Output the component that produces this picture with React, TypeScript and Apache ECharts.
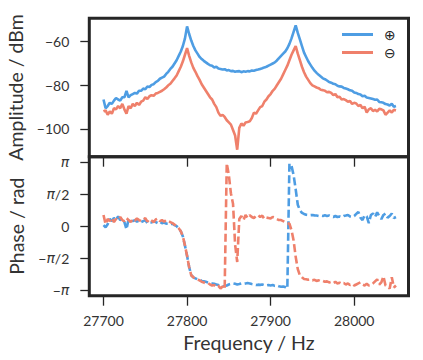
import React, { useEffect, useRef } from "react";
import * as echarts from "echarts";

// ---- data -------------------------------------------------------------
const FREQ_START = 27700; // Hz, first sample
const FREQ_STEP = 2.5; // Hz, sample spacing

// Amplitude (dBm), "⊕" (blue)
const AMP_PLUS = [
  -86.5, -90.5, -89.5, -88, -88.5, -87, -85.8, -86.5, -87, -85.5,
  -85.5, -82.5, -85.5, -84.5, -84, -83.5, -83.8, -82.5, -82.5, -81.5,
  -81.8, -80.5, -80.8, -79.8, -79.5, -78.5, -78, -77, -76.5, -76,
  -74.8, -73.8, -72.5, -71.5, -70, -68.5, -66.5, -64.5, -62, -58.5,
  -53, -56.5, -59.5, -62, -64, -65.5, -67, -68, -68.8, -69.5,
  -70.2, -70.8, -71, -71.8, -71.5, -72.3, -72.5, -72.8, -72.6, -73.2,
  -73, -73.5, -73.4, -73.8, -73.6, -73.5, -74, -73.6, -73.8, -73.5,
  -73.6, -73.2, -73.3, -73, -72.8, -72.5, -72.2, -71.8, -71.5, -71,
  -70.5, -70, -69.5, -68.6, -67.5, -66.5, -65.5, -64.5, -63, -61,
  -58.5, -55.5, -52.5, -56, -59, -62, -65, -67, -69, -70.5,
  -72, -73.3, -74.3, -75.2, -76, -76.8, -77.2, -77.8, -78.5, -78.8,
  -79.3, -79.5, -80.2, -80.5, -80.6, -81.2, -81.5, -81.8, -82.3, -82.5,
  -83.3, -83.5, -84, -84.2, -85, -84.8, -85.6, -85.8, -86, -86.3,
  -86.6, -86.5, -87.6, -87.8, -88, -88.6, -88.8, -89.3, -88.5, -89.8,
  -89.5,
];

// Amplitude (dBm), "⊖" (red)
const AMP_MINUS = [
  -92, -91.5, -93.5, -92, -93, -90.5, -91, -89.5, -90.5, -88.5,
  -91, -93, -89.5, -90.5, -88.5, -89.5, -88, -89, -87.5, -87,
  -85.5, -86.3, -85, -84.5, -84.8, -83.8, -83.5, -83, -82.5, -81.8,
  -81, -80, -79.3, -78, -76.8, -75.5, -73.5, -71.5, -69, -66,
  -63, -66.5, -69.5, -72, -73.8, -75.8, -77.5, -79.5, -81, -82.5,
  -84, -85.5, -86.5, -88.5, -90, -92.5, -94, -93.5, -94.5, -96,
  -97, -98, -100.5, -103, -109.5, -99.5, -97.5, -98.5, -97, -96.8,
  -96.5, -95, -92.5, -93, -91.5, -90, -89.5, -87.5, -86.5, -85,
  -84, -82.5, -81.5, -80, -78.5, -77, -75, -73, -71, -68.5,
  -66, -64, -62, -65.5, -68.5, -71.5, -74, -76, -77.5, -79,
  -80, -80.5, -81, -81.3, -82, -82.2, -82.5, -83.2, -83, -83.5,
  -84.5, -84, -85.5, -85.2, -86.5, -86.3, -86.8, -87.5, -87.2, -88.5,
  -88, -88.3, -89.5, -89, -90.5, -89.8, -92.5, -91, -90.5, -91.8,
  -91.2, -92, -90.8, -91, -91.5, -93.5, -92.5, -91.5, -92.5, -91.2,
  -91.5,
];

// Phase (rad), "⊕" (blue)
const PHASE_PLUS = [
  0.05, -0.05, 0.1, 0.35, 0.25, 0.4, 0.3, 0.48, 0.3, 0.35,
  0.2, -0.15, 0.35, 0.3, 0.25, 0.3, 0.22, 0.28, 0.2, 0.25,
  0.3, 0.15, 0.2, 0.18, 0.25, 0.2, 0.15, 0.22, 0.15, 0.18,
  0.12, 0.15, 0.1, 0.12, 0.05, 0.0, -0.1, -0.25, -0.5, -0.95,
  -1.45, -2.0, -2.4, -2.5, -2.55, -2.6, -2.62, -2.68, -2.7, -2.72,
  -2.75, -2.78, -2.8, -2.82, -2.85, -2.88, -2.92, -2.95, -2.93, -2.9,
  -2.85, -2.82, -2.8, -2.82, -2.85, -2.83, -2.8, -2.82, -2.8, -2.78,
  -2.8, -2.83, -2.85, -2.88, -2.86, -2.87, -2.85, -2.88, -2.9, -2.88,
  -2.9, -2.88, -2.92, -2.9, -2.94, -2.96, -2.95, -2.98, -3.05, 3.06,
  2.95, 2.5, 1.8, 1.05, 0.78, 0.65, 0.6, 0.56, 0.55, 0.54,
  0.55, 0.53, 0.52, 0.5, 0.52, 0.5, 0.53, 0.5, 0.52, 0.48,
  0.45, 0.5, 0.45, 0.48, 0.44, 0.5, 0.52, 0.55, 0.48, 0.45,
  0.5, 0.6, 0.7, 0.42, 0.3, 0.55, 0.48, 0.15, 0.55, 0.62,
  0.45, 0.68, 0.5, 0.35, 0.55, 0.62, 0.42, 0.5, 0.62, 0.4,
  0.45,
];

// Phase (rad), "⊖" (red)
const PHASE_MINUS = [
  0.55, 0.1, 0.35, 0.25, 0.4, 0.2, 0.35, 0.3, 0.45, 0.3,
  0.25, 0.4, 0.3, 0.2, 0.35, 0.28, 0.38, 0.3, 0.25, 0.32,
  0.4, 0.22, 0.35, 0.28, 0.2, 0.33, 0.38, 0.25, 0.3, 0.22,
  0.3, 0.25, 0.2, 0.15, 0.08, 0.02, -0.1, -0.25, -0.5, -0.95,
  -1.45, -2.0, -2.4, -2.5, -2.58, -2.62, -2.65, -2.72, -2.75, -2.8,
  -2.78, -2.85, -2.9, -2.88, -2.98, -2.92, -3.05, -2.95, -3.08, 3.08,
  2.5, 1.6, 1.1, -0.9, -1.75, 0.35, 0.5, 0.3, 0.55, 0.4,
  0.54, 0.45, 0.4, 0.5, 0.55, 0.45, 0.52, 0.35, 0.42, 0.4,
  0.38, 0.45, 0.42, 0.35, 0.3, 0.3, 0.25, 0.2, 0.15, 0.12,
  -0.2, -0.7, -1.5, -2.1, -2.4, -2.5, -2.58, -2.6, -2.62, -2.6,
  -2.65, -2.62, -2.68, -2.65, -2.7, -2.68, -2.72, -2.7, -2.75, -2.72,
  -2.78, -2.72, -2.8, -2.76, -2.82, -2.78, -2.85, -2.8, -2.88, -2.82,
  -2.9, -2.85, -2.8, -2.75, -2.85, -2.9, -2.82, -2.9, -2.88, -2.8,
  -2.7, -2.6, -2.85, -2.75, -2.45, -2.9, -2.95, -3.05, -2.5, -3.0,
  -2.9,
];

const FREQ_TICKS = [27700, 27800, 27900, 28000];
const AMP_TICKS = [-100, -80, -60];
const PHASE_TICKS = [-Math.PI, -Math.PI / 2, 0, Math.PI / 2, Math.PI];
const PHASE_TICK_LABELS = ["−{i|π}", "−{i|π}/2", "0", "{i|π}/2", "{i|π}"];
const SERIES_NAMES = ["⊕", "⊖"];

// ---- styling ------------------------------------------------------------
const BLUE = "#4e9de3";
const RED = "#ef806b";
const INK = "#262626";
const TEXT = "#333333";
const FONT = "Lato, 'DejaVu Sans', sans-serif";

const FREQ = AMP_PLUS.map((_, i) => FREQ_START + i * FREQ_STEP);
const pairs = (ys: number[]) => ys.map((y, i) => [FREQ[i], y]);

export default function App() {
  const ref = useRef<HTMLDivElement>(null);

  useEffect(() => {
    if (!ref.current) return;
    const chart = echarts.init(ref.current, null, { renderer: "svg" });

    const gridCommon = {
      show: true,
      left: 89.3,
      width: 319.2,
      borderColor: INK,
      borderWidth: 3,
      backgroundColor: "transparent",
      containLabel: false,
      outerBoundsMode: "none",
    };
    const tickStyle = { color: INK, width: 1.3 };
    const labelStyle = { color: TEXT, fontFamily: FONT, fontSize: 14 };
    const nameStyle = { color: TEXT, fontFamily: FONT, fontSize: 19.5 };

    const option: any = {
      animation: false,
      backgroundColor: "#ffffff",
      grid: [
        { ...gridCommon, top: 18.3, height: 138.4 },
        { ...gridCommon, top: 156.7, height: 139 },
      ],
      legend: {
        data: SERIES_NAMES,
        orient: "vertical",
        left: 342,
        top: 27.5,
        padding: 0,
        itemWidth: 31,
        itemHeight: 3,
        itemGap: 4,
        icon: "rect",
        textStyle: {
          fontFamily: "'DejaVu Sans', sans-serif",
          fontSize: 14,
          color: "#222",
          padding: [0, 0, 0, 6],
        },
      },
      xAxis: [
        {
          type: "value",
          gridIndex: 0,
          min: 27683,
          max: 28065,
          axisLine: { show: false, onZero: false },
          axisTick: { show: true, customValues: FREQ_TICKS, length: 10, lineStyle: tickStyle },
          axisLabel: { show: false },
          splitLine: { show: false },
        },
        {
          type: "value",
          gridIndex: 1,
          min: 27683,
          max: 28065,
          name: "Frequency / Hz",
          nameLocation: "middle",
          nameGap: 37,
          nameTextStyle: nameStyle,
          axisLine: { show: false, onZero: false },
          axisTick: { show: true, customValues: FREQ_TICKS, length: 10, lineStyle: tickStyle },
          axisLabel: { ...labelStyle, customValues: FREQ_TICKS, margin: 18, formatter: (v: number) => String(v) },
          splitLine: { show: false },
        },
      ],
      yAxis: [
        {
          type: "value",
          gridIndex: 0,
          min: -112.7,
          max: -49.3,
          name: "Amplitude / dBm",
          nameLocation: "middle",
          nameGap: 63,
          nameTextStyle: nameStyle,
          axisLine: { show: false, onZero: false },
          axisTick: { show: true, customValues: AMP_TICKS, length: 9, lineStyle: tickStyle },
          axisLabel: {
            ...labelStyle,
            customValues: AMP_TICKS,
            margin: 20,
            formatter: (v: number) => (v < 0 ? "−" : "") + Math.abs(v),
          },
          splitLine: { show: false },
        },
        {
          type: "value",
          gridIndex: 1,
          min: -3.4,
          max: 3.4,
          name: "Phase / rad",
          nameLocation: "middle",
          nameGap: 63,
          nameTextStyle: nameStyle,
          axisLine: { show: false, onZero: false },
          axisTick: { show: true, customValues: PHASE_TICKS, length: 9, lineStyle: tickStyle },
          axisLabel: {
            ...labelStyle,
            customValues: PHASE_TICKS,
            margin: 20,
            formatter: (v: number) => {
              let best = 0;
              PHASE_TICKS.forEach((t, i) => {
                if (Math.abs(t - v) < Math.abs(PHASE_TICKS[best] - v)) best = i;
              });
              return PHASE_TICK_LABELS[best];
            },
            rich: {
              i: {
                fontStyle: "italic",
                fontFamily: "'DejaVu Sans', sans-serif",
                fontSize: 14,
                color: TEXT,
              },
            },
          },
          splitLine: { show: false },
        },
      ],
      series: [
        {
          name: SERIES_NAMES[0],
          type: "line",
          xAxisIndex: 0,
          yAxisIndex: 0,
          data: pairs(AMP_PLUS),
          showSymbol: false,
          lineStyle: { color: BLUE, width: 2.6 },
          itemStyle: { color: BLUE },
          z: 3,
        },
        {
          name: SERIES_NAMES[1],
          type: "line",
          xAxisIndex: 0,
          yAxisIndex: 0,
          data: pairs(AMP_MINUS),
          showSymbol: false,
          lineStyle: { color: RED, width: 2.6 },
          itemStyle: { color: RED },
          z: 3,
        },
        {
          name: SERIES_NAMES[0],
          type: "line",
          xAxisIndex: 1,
          yAxisIndex: 1,
          data: pairs(PHASE_PLUS),
          showSymbol: false,
          lineStyle: { color: BLUE, width: 2.6, type: [8, 3.5] },
          itemStyle: { color: BLUE },
          z: 3,
        },
        {
          name: SERIES_NAMES[1],
          type: "line",
          xAxisIndex: 1,
          yAxisIndex: 1,
          data: pairs(PHASE_MINUS),
          showSymbol: false,
          lineStyle: { color: RED, width: 2.6, type: [8, 3.5] },
          itemStyle: { color: RED },
          z: 3,
        },
      ],
    };

    chart.setOption(option);
    return () => chart.dispose();
  }, []);

  return (
    <div
      ref={ref}
      style={{ position: "fixed", left: 0, top: 0, width: 423, height: 360 }}
    />
  );
}
